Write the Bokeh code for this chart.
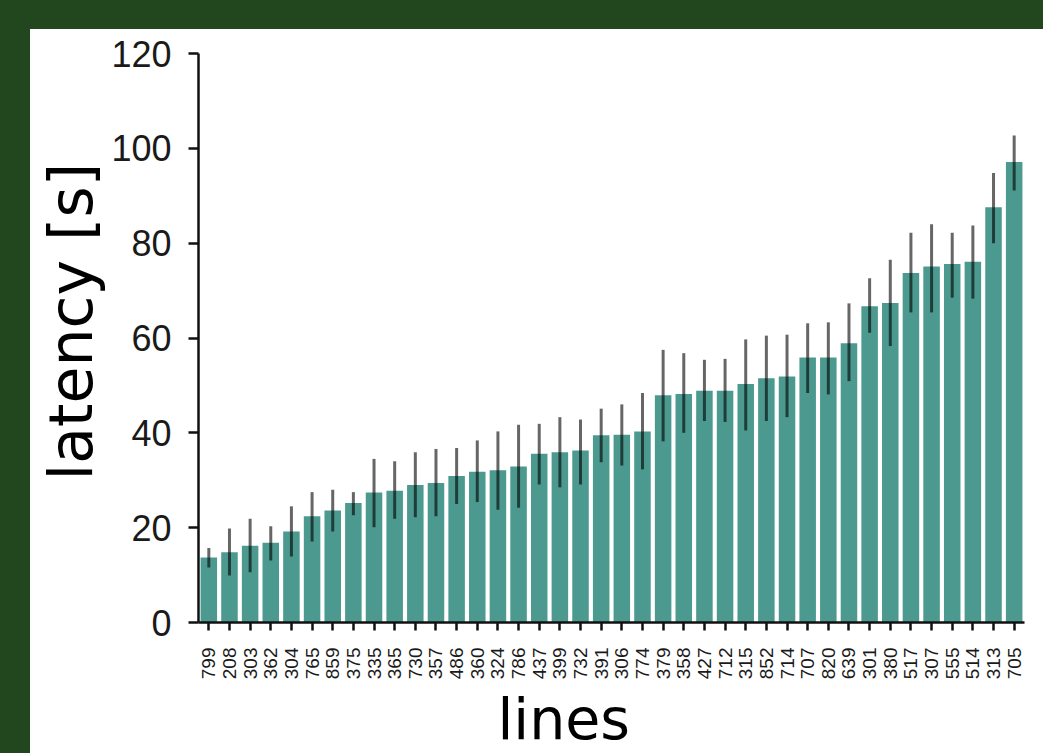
import math
from bokeh.plotting import figure
from bokeh.models import ColumnDataSource, Spacer, Title
from bokeh.layouts import column, row
from bokeh.embed import file_html
from bokeh.resources import INLINE

# ---- data ----
lines = ["799", "208", "303", "362", "304", "765", "859", "375", "335", "365",
         "730", "357", "486", "360", "324", "786", "437", "399", "732", "391",
         "306", "774", "379", "358", "427", "712", "315", "852", "714", "707",
         "820", "639", "301", "380", "517", "307", "555", "514", "313", "705"]
latency = [13.7, 14.8, 16.2, 16.8, 19.2, 22.4, 23.6, 25.2, 27.4, 27.8,
           29.0, 29.4, 30.9, 31.8, 32.1, 32.9, 35.6, 35.9, 36.3, 39.5,
           39.6, 40.3, 47.9, 48.2, 48.9, 48.9, 50.3, 51.5, 51.9, 55.9,
           55.9, 58.9, 66.7, 67.4, 73.7, 75.1, 75.6, 76.1, 87.6, 97.1]
err_low = [11.6, 9.9, 10.6, 13.1, 13.9, 17.1, 19.2, 22.6, 20.1, 21.9,
           22.2, 22.4, 25.0, 25.4, 23.8, 24.2, 29.1, 28.5, 29.1, 33.8,
           33.1, 32.3, 38.2, 40.0, 42.5, 42.3, 40.5, 42.5, 43.3, 48.4,
           48.1, 50.9, 61.1, 58.3, 65.4, 65.4, 68.5, 68.3, 80.0, 91.1]
err_high = [15.7, 19.8, 21.9, 20.3, 24.5, 27.5, 28.0, 27.5, 34.5, 34.0,
            35.9, 36.6, 36.8, 38.4, 40.3, 41.7, 41.9, 43.3, 42.8, 45.1,
            46.0, 48.4, 57.5, 56.8, 55.4, 55.6, 59.7, 60.5, 60.7, 63.1,
            63.3, 67.3, 72.6, 76.5, 82.2, 84.0, 82.2, 83.7, 94.8, 102.7]
y_ticks = [0, 20, 40, 60, 80, 100, 120]
x_title = "lines"
y_title = "latency [s]"

GREEN = "#22471f"
BAR = "#4c9a8f"
TICK_FONT = "Liberation Sans"
LABEL_FONT = "DejaVu Sans"

src = ColumnDataSource(dict(line=lines, latency=latency, lo=err_low, hi=err_high))

fig = figure(x_range=lines, y_range=(0, 120), width=1013, height=724,
             output_backend="svg", toolbar_location=None,
             min_border_left=168, min_border_right=19,
             min_border_top=24, min_border_bottom=131)
fig.x_range.range_padding = 0

fig.vbar(x="line", top="latency", width=0.8, source=src,
         fill_color=BAR, line_color=None)
fig.segment(x0="line", y0="lo", x1="line", y1="hi", source=src,
            line_color="black", line_alpha=0.6, line_width=3)

fig.xgrid.visible = False
fig.ygrid.visible = False
fig.outline_line_color = None
fig.background_fill_color = "white"
fig.border_fill_color = "white"

# y axis
fig.yaxis.ticker = y_ticks
fig.yaxis.axis_line_width = 2.5
fig.yaxis.axis_line_color = "#111111"
fig.yaxis.major_tick_line_width = 2.5
fig.yaxis.major_tick_line_color = "#111111"
fig.yaxis.major_tick_in = 0
fig.yaxis.major_tick_out = 10
fig.yaxis.minor_tick_line_color = None
fig.yaxis.major_label_text_font = TICK_FONT
fig.yaxis.major_label_text_font_size = "36px"
fig.yaxis.major_label_text_color = "#1a1a1a"
fig.yaxis.major_label_standoff = 17

# x axis
fig.xaxis.axis_line_width = 2.5
fig.xaxis.axis_line_color = "#111111"
fig.xaxis.major_tick_line_width = 2.5
fig.xaxis.major_tick_line_color = "#111111"
fig.xaxis.major_tick_in = 0
fig.xaxis.major_tick_out = 8
fig.xaxis.major_label_orientation = math.pi / 2
fig.xaxis.major_label_text_font = TICK_FONT
fig.xaxis.major_label_text_font_size = "19px"
fig.xaxis.major_label_text_color = "#1a1a1a"
fig.xaxis.major_label_standoff = 17

# axis titles as side titles (offset along the axis like the reference)
fig.add_layout(Title(text=x_title, align="left", offset=299,
                     text_font=LABEL_FONT, text_font_size="57px",
                     text_font_style="normal", text_color="black",
                     standoff=2), "below")
fig.add_layout(Title(text=y_title, align="left", offset=142,
                     text_font=LABEL_FONT, text_font_size="60px",
                     text_font_style="normal", text_color="black",
                     standoff=6), "left")

top_band = Spacer(width=1043, height=29, styles={"background-color": GREEN})
left_band = Spacer(width=30, height=724, styles={"background-color": GREEN})
p = column(top_band, row(left_band, fig))

open("out.html", "w").write(file_html(p, INLINE))
